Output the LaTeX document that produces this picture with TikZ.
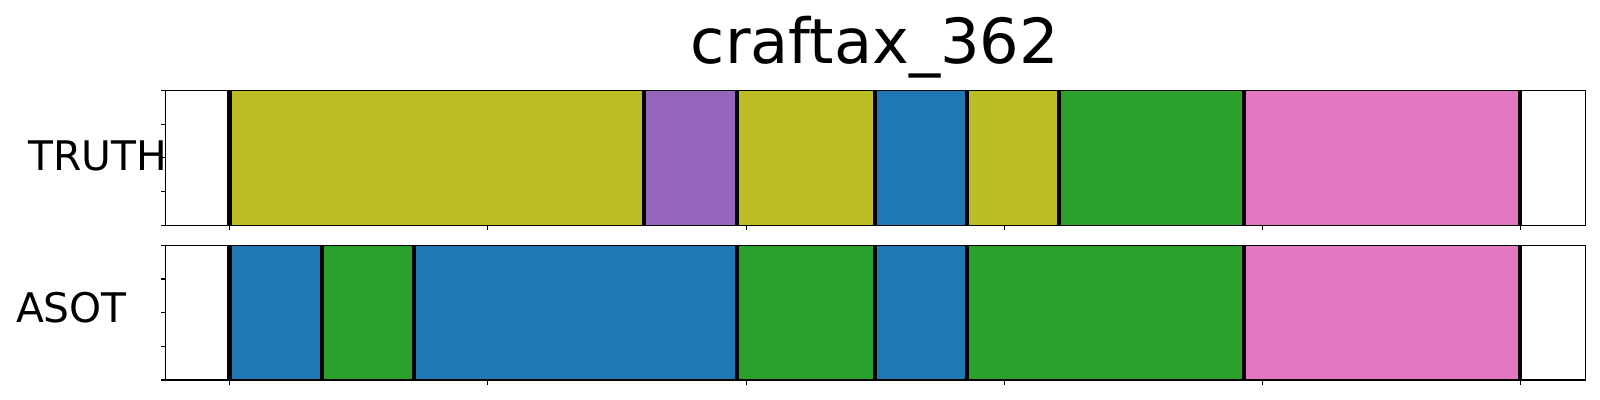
\documentclass[tikz,border=0pt]{standalone}
\usepackage{fontspec}
\setmainfont{DejaVu Sans}
\definecolor{cOlive}{HTML}{BCBD22}
\definecolor{cPurple}{HTML}{9467BD}
\definecolor{cBlue}{HTML}{1F77B4}
\definecolor{cGreen}{HTML}{2CA02C}
\definecolor{cPink}{HTML}{E377C2}
\tikzset{
  frame/.style={draw=black, line width=0.3pt},
  sep/.style={draw=black, line width=1.15pt},
  tickmark/.style={draw=black, line width=0.3pt},
  rowlabel/.style={anchor=base, inner sep=0pt, font=\fontsize{11.6}{14}\selectfont},
  titlelabel/.style={anchor=base, inner sep=0pt, font=\fontsize{17.7}{20}\selectfont}
}
\begin{document}
\begin{tikzpicture}[x=0.01cm, y=-0.01cm]
\useasboundingbox (0,0) rectangle (1600,400);
% title
\node[titlelabel] (title) at (875,63) {craftax\_362};
% row labels
\node[rowlabel] (truth) at (98,170) {TRUTH};
\node[rowlabel] (asot) at (71.5,322) {ASOT};
% TRUTH segments
\fill[cOlive]  (229.5,90.3) rectangle (643.7,225.3);
\fill[cPurple] (643.7,90.3) rectangle (736.7,225.3);
\fill[cOlive]  (736.7,90.3) rectangle (875,225.3);
\fill[cBlue]   (875,90.3) rectangle (967,225.3);
\fill[cOlive]  (967,90.3) rectangle (1058.7,225.3);
\fill[cGreen]  (1058.7,90.3) rectangle (1244,225.3);
\fill[cPink]   (1244,90.3) rectangle (1520,225.3);
\foreach \bx in {229.5,643.7,736.7,875,967,1058.7,1244,1520}
  \draw[sep] (\bx,90.3) -- (\bx,225.3);
% ASOT segments
\fill[cBlue]   (229.5,245.3) rectangle (322,380);
\fill[cGreen]  (322,245.3) rectangle (413.7,380);
\fill[cBlue]   (413.7,245.3) rectangle (736.7,380);
\fill[cGreen]  (736.7,245.3) rectangle (875,380);
\fill[cBlue]   (875,245.3) rectangle (967,380);
\fill[cGreen]  (967,245.3) rectangle (1244,380);
\fill[cPink]   (1244,245.3) rectangle (1520,380);
\foreach \bx in {229.5,322,413.7,736.7,875,967,1244,1520}
  \draw[sep] (\bx,245.3) -- (\bx,380);
% frames
\draw[frame] (165.7,90.3) rectangle (1585.3,225.3);
\draw[frame] (165.7,245.3) rectangle (1585.3,380);
% y ticks
\foreach \k in {0,...,4} {
  \draw[tickmark] (165.7,90.3+33.75*\k) -- (160.7,90.3+33.75*\k);
  \draw[tickmark] (165.7,245.3+33.675*\k) -- (160.7,245.3+33.675*\k);
}
% x ticks
\foreach \k in {0,...,5} {
  \draw[tickmark] (229.7+258.25*\k,225.3) -- (229.7+258.25*\k,230.3);
  \draw[tickmark] (229.7+258.25*\k,380) -- (229.7+258.25*\k,385);
}
\end{tikzpicture}
\end{document}
